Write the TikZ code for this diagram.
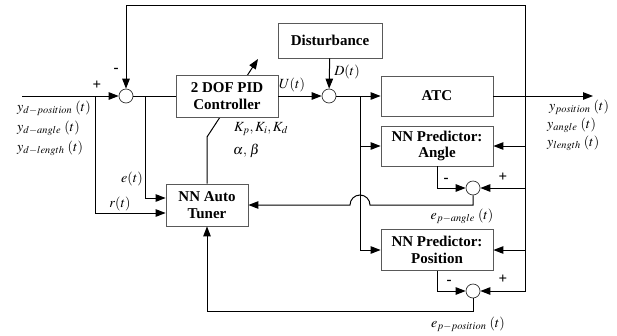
\documentclass[tikz,border=0pt]{standalone}
\usepackage{mathptmx}
\usepackage{fontspec}
\setmainfont{Liberation Serif}
\usetikzlibrary{arrows.meta,backgrounds}
\begin{document}
\begin{tikzpicture}[x=1pt,y=1pt,
  blk/.style={draw=black!65,line width=0.8pt,fill=white,align=center,
    font=\fontsize{15}{16.5}\selectfont\bfseries,inner sep=0pt},
  sumc/.style={circle,draw=black!80,line width=0.7pt,fill=white,minimum size=14pt,inner sep=0pt},
  arr/.style={-{Triangle[length=10pt,width=7.5pt]}},
  conn/.style={line width=1pt},
  lbl/.style={font=\fontsize{14}{16}\selectfont,inner sep=0pt},
  sgn/.style={font=\fontsize{15}{16}\selectfont\bfseries,inner sep=0pt}]
\useasboundingbox (0,0) rectangle (617,-335);
% blocks
\node[blk,minimum width=102pt,minimum height=42pt] (pid) at (227,-96) {2 DOF PID\\Controller};
\node[blk,minimum width=104pt,minimum height=35pt] (dist) at (330,-40.5) {Disturbance};
\node[blk,minimum width=112pt,minimum height=40pt] (atc) at (437,-96) {ATC};
\node[blk,minimum width=112pt,minimum height=40pt] (ang) at (437,-146) {NN Predictor:\\Angle};
\node[blk,minimum width=112pt,minimum height=41pt] (pos) at (437,-250) {NN Predictor:\\Position};
\node[blk,minimum width=82pt,minimum height=42pt] (tun) at (207,-205) {NN Auto\\Tuner};
% summing junctions
\node[sumc] (s1) at (126,-96) {};
\node[sumc] (s2) at (329,-96) {};
\node[sumc] (s3) at (473,-188) {};
\node[sumc] (s4) at (473,-291) {};
% coordinates
\coordinate (in) at (22,-96);
\coordinate (out) at (593,-96);
\coordinate (top) at (525,-5);
\coordinate (topl) at (126,-5);
\coordinate (bx) at (95,-96);
\coordinate (ex) at (145,-96);
\coordinate (bu) at (360,-96);
\coordinate (kb) at (207,-137);
\coordinate (kd) at (258,-59);
\coordinate (eb) at (473,-311);
% connectors
\draw[conn,arr] (in) -- (s1);
\draw[conn,arr] (top) -- (topl) -- (s1);
\draw[conn] (s1) -- (pid);
\draw[conn,arr] (bx) |- ([yshift=-8pt]tun.west);
\draw[conn,arr] (ex) |- ([yshift=7pt]tun.west);
\draw[conn,arr] (pid) -- (s2);
\draw[conn,arr] (dist) -- (s2);
\draw[conn,arr] (s2) -- (atc);
\draw[conn,arr] (atc) -- (out);
\draw[conn,arr] (top) -- (top |- s4) -- (s4);
\draw[conn,arr] (top |- s3) -- (s3);
\draw[conn,arr] (top |- ang) -- (ang);
\draw[conn,arr] (top |- pos) -- (pos);
\draw[conn,arr] (bu) |- (pos);
\draw[conn,arr] (bu |- ang) -- (ang);
\draw[conn,arr] (ang.south) |- (s3);
\draw[conn,arr] (pos.south) |- (s4);
\draw[conn,arr] (s3) -- (s3 |- tun) -- ([xshift=10pt]bu |- tun)
  arc[start angle=0,end angle=180,radius=10pt] -- (tun);
\draw[conn,arr] (s4) -- (eb) -| (tun);
\begin{pgfonlayer}{background}
\draw[conn,arr] (tun) -- (kb) -- (kd);
\end{pgfonlayer}
% signs
\node[sgn] (p1) at (97,-85) {+};
\node[sgn] (m1) at (116,-70) {-};
\node[sgn] (m3) at (446,-180) {-};
\node[sgn] (p3) at (503,-177) {+};
\node[sgn] (m4) at (449,-282) {-};
\node[sgn] (p4) at (503,-279) {+};
% labels
\node[lbl] (lu) at (292,-85) {$U(t)$};
\node[lbl] (ld) at (347,-72) {$D(t)$};
\node[lbl,anchor=west] (lk) at (234,-129) {$K_p, K_i, K_d$};
\node[lbl,anchor=west] (lab) at (233,-151) {$\alpha,\,\beta$};
\node[lbl,anchor=west] (l1) at (17,-108) {$y_{d-position}\;(t)$};
\node[lbl,anchor=west] (l2) at (17,-128) {$y_{d-angle}\;(t)$};
\node[lbl,anchor=west] (l3) at (17,-148) {$y_{d-length}\;(t)$};
\node[lbl,anchor=west] (r1) at (549,-107) {$y_{position}\;(t)$};
\node[lbl,anchor=west] (r2) at (547,-125) {$y_{angle}\;(t)$};
\node[lbl,anchor=west] (r3) at (547,-143) {$y_{length}\;(t)$};
\node[lbl] (le) at (132,-179) {$e(t)$};
\node[lbl] (lr) at (120,-204) {$r(t)$};
\node[lbl] (lea) at (462,-216) {$e_{p-angle}\;(t)$};
\node[lbl] (lep) at (468,-324) {$e_{p-position}\;(t)$};
\end{tikzpicture}
\end{document}
